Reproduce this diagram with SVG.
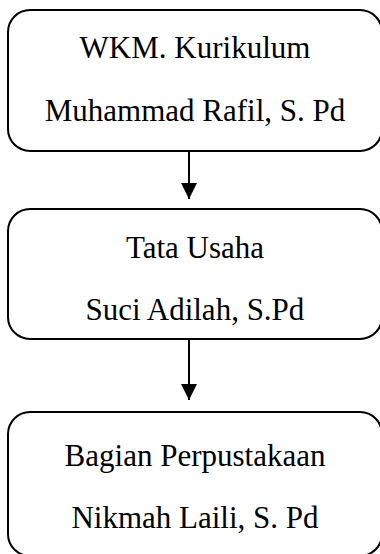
<svg xmlns="http://www.w3.org/2000/svg" width="380" height="554" viewBox="0 0 380 554">
<defs>
<style>
.box{fill:#fff;stroke:#000;stroke-width:2}
.t{font-family:"Liberation Serif","Times New Roman",serif;font-size:31px;fill:#000;text-anchor:middle}
.c{stroke:#000;stroke-width:2;fill:none}
</style>
<marker id="ah" markerUnits="userSpaceOnUse" markerWidth="16" markerHeight="16" refX="16" refY="8" orient="auto">
<path d="M0,0 L16,8 L0,16 Z" fill="#000"/>
</marker>
</defs>
<rect width="380" height="554" fill="#fff"/>
<g id="connectors">
<line class="c" x1="189" y1="151" x2="189" y2="199" marker-end="url(#ah)"/>
<line class="c" x1="189" y1="339" x2="189" y2="400" marker-end="url(#ah)"/>
</g>
<g id="node1">
<rect class="box" x="8" y="10" width="374" height="141" rx="22" ry="22"/>
<text class="t" x="195" y="58">WKM. Kurikulum</text>
<text class="t" x="195" y="121">Muhammad Rafil, S. Pd</text>
</g>
<g id="node2">
<rect class="box" x="8" y="209" width="374" height="130" rx="22" ry="22"/>
<text class="t" x="195" y="258">Tata Usaha</text>
<text class="t" x="195" y="320">Suci Adilah, S.Pd</text>
</g>
<g id="node3">
<rect class="box" x="8" y="412" width="374" height="144" rx="22" ry="22"/>
<text class="t" x="195" y="466">Bagian Perpustakaan</text>
<text class="t" x="195" y="528">Nikmah Laili, S. Pd</text>
</g>
</svg>
